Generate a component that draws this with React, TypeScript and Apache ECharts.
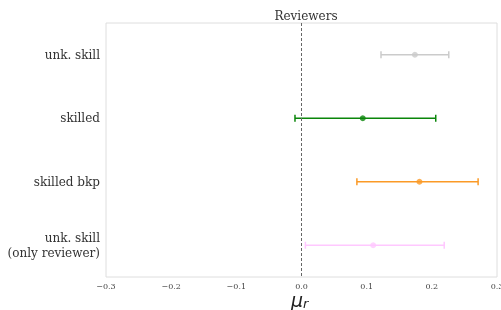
import React, { useEffect, useRef } from "react";
import * as echarts from "echarts";

const categories = ["unk. skill", "skilled", "skilled bkp", "unk. skill\n(only reviewer)"];
const centers = [0.174, 0.094, 0.181, 0.110];
const lows = [0.122, -0.010, 0.085, 0.006];
const highs = [0.226, 0.206, 0.271, 0.219];
const colors = ["#cbcbcb", "#0a860a", "#fb9a26", "#ffc8ff"];
const xTicks = { min: -0.3, max: 0.3, interval: 0.1 };

export default function App() {
  const ref = useRef<HTMLDivElement>(null);
  useEffect(() => {
    const chart = echarts.init(ref.current!, null, { renderer: "svg" });
    const serif = "DejaVu Serif";
    chart.setOption({
      animation: false,
      title: {
        text: "Reviewers",
        left: 301,
        top: 5,
        textAlign: "center",
        textStyle: { fontFamily: serif, fontSize: 12, fontWeight: "normal", color: "#333" },
      },
      graphic: [
        {
          type: "text",
          left: 291,
          top: 290,
          style: {
            text: "{m|\u03bc}{s|r}",
            rich: {
              m: { fontFamily: "DejaVu Sans", fontStyle: "italic", fontSize: 19, fill: "#222" },
              s: { fontFamily: "DejaVu Sans", fontStyle: "italic", fontSize: 13, fill: "#222", padding: [7, 0, 0, 0] },
            },
          },
        },
      ],
      grid: {
        left: 106,
        right: 4,
        top: 23,
        bottom: 33,
        show: true,
        borderColor: "#dedede",
        borderWidth: 1,
        containLabel: false,
        outerBoundsMode: "none",
      },
      xAxis: {
        type: "value",
        min: xTicks.min,
        max: xTicks.max,
        interval: xTicks.interval,
        axisLine: { show: false },
        axisTick: { show: false },
        splitLine: { show: false },
        axisLabel: {
          fontFamily: serif,
          fontSize: 8,
          color: "#444",
          margin: 5,
          formatter: (v: number) => (v < -1e-9 ? "\u2212" : "") + Math.abs(v).toFixed(1),
        },
      },
      yAxis: {
        type: "category",
        data: categories,
        inverse: true,
        axisLine: { show: false },
        axisTick: { show: false },
        splitLine: { show: false },
        axisLabel: {
          fontFamily: serif,
          fontSize: 12,
          color: "#333",
          margin: 6,
          lineHeight: 15,
          align: "right",
        },
      },
      series: [
        {
          type: "custom",
          data: categories.map((_, i) => [lows[i], highs[i], i]),
          encode: { x: [0, 1], y: 2 },
          renderItem: (params: any, api: any) => {
            const i = api.value(2);
            const p0 = api.coord([api.value(0), i]);
            const p1 = api.coord([api.value(1), i]);
            const h = 3.5;
            const style = { stroke: colors[i], lineWidth: 1.5, fill: "none" };
            return {
              type: "group",
              children: [
                { type: "line", shape: { x1: p0[0], y1: p0[1], x2: p1[0], y2: p1[1] }, style },
                { type: "line", shape: { x1: p0[0], y1: p0[1] - h, x2: p0[0], y2: p0[1] + h }, style },
                { type: "line", shape: { x1: p1[0], y1: p1[1] - h, x2: p1[0], y2: p1[1] + h }, style },
              ],
            };
          },
        },
        {
          type: "scatter",
          symbolSize: 6,
          data: categories.map((_, i) => ({ value: [centers[i], i], itemStyle: { color: colors[i] } })),
          markLine: {
            silent: true,
            symbol: "none",
            label: { show: false },
            lineStyle: { type: [3, 2], color: "#666", width: 1 },
            data: [{ xAxis: 0 }],
          },
        },
      ],
    });
    return () => chart.dispose();
  }, []);
  return <div ref={ref} style={{ position: "fixed", left: 0, top: 0, width: 501, height: 310 }} />;
}
